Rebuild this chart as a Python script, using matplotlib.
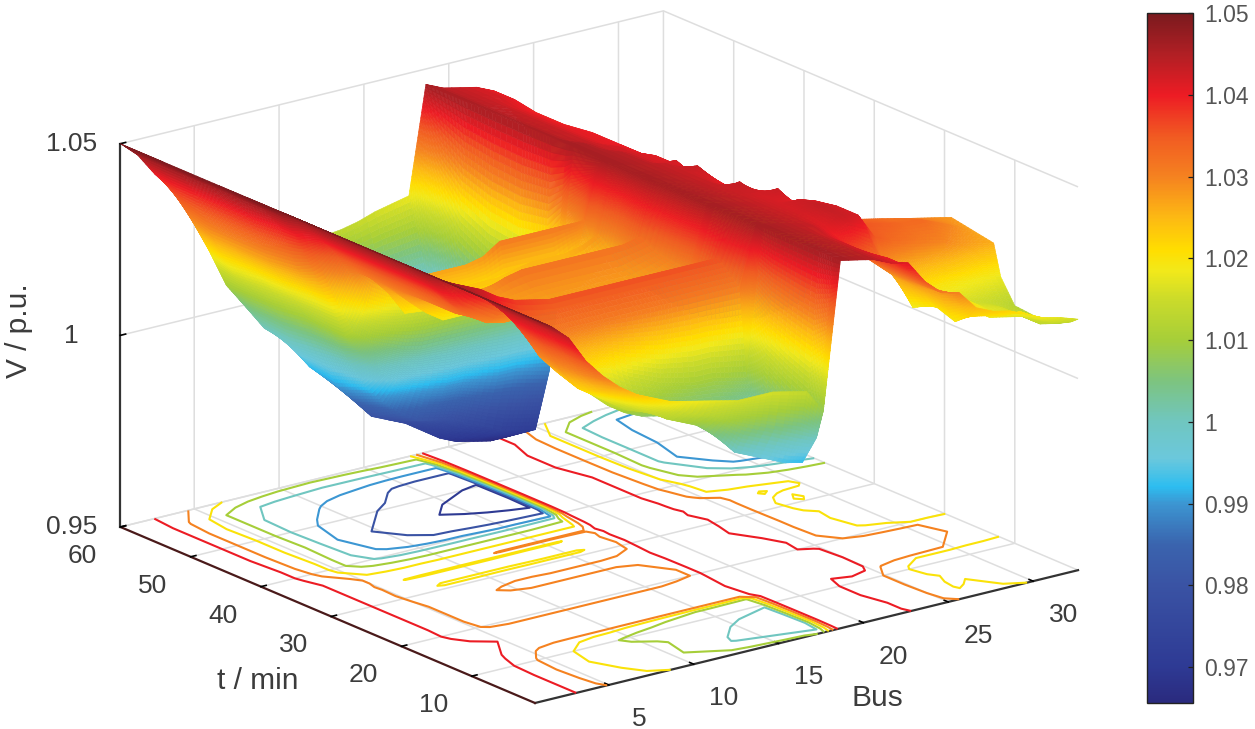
import numpy as np
import matplotlib
matplotlib.use("Agg")
import matplotlib.pyplot as plt
from matplotlib.colors import LinearSegmentedColormap, Normalize
from matplotlib.cm import ScalarMappable
from mpl_toolkits.mplot3d import proj3d

plt.rcParams['font.family'] = ['Liberation Sans', 'DejaVu Sans']
plt.rcParams['grid.color'] = '#dedede'
plt.rcParams['grid.linewidth'] = 1.1

# bus index and time rows
bus = np.arange(1, 34)
t_rows = [1, 2, 4, 7, 10, 12, 13, 16, 19, 20, 22, 25, 27, 29, 31, 33, 34, 35, 36, 37, 39, 40, 42, 46, 50, 54, 57, 60]

# buses 1-18
v_feeder = [
    [1.05, 1.047, 1.043, 1.036, 1.031, 1.027, 1.024, 1.022, 1.02, 1.019, 1.018, 1.017, 1.016, 1.016, 1.016, 1.015, 1.014, 1.008],
    [1.05, 1.047, 1.043, 1.036, 1.03, 1.026, 1.023, 1.02, 1.018, 1.016, 1.014, 1.012, 1.01, 1.008, 1.006, 1.004, 1.002, 1.0],
    [1.05, 1.047, 1.043, 1.036, 1.029, 1.024, 1.021, 1.018, 1.015, 1.012, 1.01, 1.008, 1.004, 0.999, 0.997, 0.995, 0.993, 0.992],
    [1.05, 1.047, 1.043, 1.036, 1.028, 1.022, 1.019, 1.016, 1.013, 1.012, 1.011, 1.008, 1.005, 1.002, 1.0, 0.998, 0.997, 0.996],
    [1.05, 1.047, 1.043, 1.037, 1.029, 1.024, 1.02, 1.016, 1.012, 1.009, 1.007, 1.006, 1.005, 1.004, 1.004, 1.003, 1.002, 1.001],
    [1.05, 1.047, 1.044, 1.039, 1.033, 1.028, 1.024, 1.021, 1.02, 1.019, 1.016, 1.014, 1.012, 1.011, 1.01, 1.01, 1.009, 1.008],
    [1.05, 1.047, 1.044, 1.04, 1.035, 1.032, 1.031, 1.031, 1.031, 1.031, 1.031, 1.031, 1.031, 1.031, 1.031, 1.031, 1.031, 1.031],
    [1.05, 1.047, 1.045, 1.043, 1.04, 1.038, 1.037, 1.036, 1.036, 1.036, 1.036, 1.036, 1.036, 1.036, 1.036, 1.036, 1.036, 1.036],
    [1.05, 1.047, 1.043, 1.037, 1.034, 1.031, 1.0305, 1.0305, 1.0305, 1.0305, 1.0305, 1.0305, 1.0305, 1.0305, 1.0305, 1.0305, 1.031, 1.032],
    [1.05, 1.047, 1.042, 1.036, 1.032, 1.029, 1.028, 1.028, 1.028, 1.028, 1.028, 1.028, 1.028, 1.028, 1.028, 1.028, 1.029, 1.03],
    [1.05, 1.047, 1.042, 1.037, 1.031, 1.029, 1.028, 1.027, 1.027, 1.027, 1.027, 1.027, 1.027, 1.027, 1.027, 1.027, 1.028, 1.03],
    [1.05, 1.047, 1.042, 1.037, 1.031, 1.029, 1.028, 1.028, 1.028, 1.0285, 1.029, 1.029, 1.029, 1.029, 1.029, 1.029, 1.03, 1.031],
    [1.05, 1.047, 1.042, 1.037, 1.031, 1.029, 1.029, 1.029, 1.029, 1.031, 1.032, 1.032, 1.032, 1.032, 1.032, 1.032, 1.032, 1.033],
    [1.05, 1.047, 1.042, 1.037, 1.031, 1.028, 1.027, 1.027, 1.027, 1.027, 1.028, 1.028, 1.027, 1.027, 1.027, 1.027, 1.028, 1.03],
    [1.05, 1.047, 1.042, 1.037, 1.031, 1.026, 1.022, 1.019, 1.019, 1.019, 1.019, 1.019, 1.019, 1.019, 1.019, 1.019, 1.022, 1.026],
    [1.05, 1.047, 1.042, 1.037, 1.031, 1.027, 1.025, 1.024, 1.024, 1.024, 1.024, 1.024, 1.025, 1.026, 1.026, 1.026, 1.027, 1.029],
    [1.05, 1.047, 1.042, 1.037, 1.031, 1.026, 1.0195, 1.019, 1.019, 1.019, 1.019, 1.019, 1.019, 1.019, 1.019, 1.019, 1.023, 1.026],
    [1.05, 1.047, 1.042, 1.037, 1.031, 1.028, 1.027, 1.027, 1.027, 1.027, 1.027, 1.028, 1.031, 1.031, 1.031, 1.031, 1.031, 1.031],
    [1.05, 1.047, 1.042, 1.037, 1.031, 1.028, 1.025, 1.024, 1.024, 1.023, 1.023, 1.023, 1.023, 1.023, 1.023, 1.023, 1.023, 1.023],
    [1.05, 1.047, 1.042, 1.037, 1.03, 1.02, 1.018, 1.017, 1.017, 1.017, 1.017, 1.017, 1.017, 1.017, 1.017, 1.017, 1.017, 1.017],
    [1.05, 1.046, 1.041, 1.032, 1.021, 1.012, 1.008, 1.006, 1.004, 1.003, 1.003, 1.003, 1.003, 1.003, 1.003, 1.003, 1.004, 1.005],
    [1.05, 1.046, 1.04, 1.03, 1.02, 1.01, 1.004, 0.998, 0.995, 0.994, 0.993, 0.992, 0.992, 0.991, 0.99, 0.99, 0.989, 0.988],
    [1.05, 1.046, 1.04, 1.028, 1.02, 1.01, 1.001, 0.993, 0.988, 0.984, 0.981, 0.98, 0.979, 0.977, 0.975, 0.973, 0.972, 0.971],
    [1.05, 1.046, 1.039, 1.027, 1.019, 1.011, 1.0, 0.99, 0.985, 0.98, 0.978, 0.976, 0.973, 0.97, 0.968, 0.967, 0.966, 0.966],
    [1.05, 1.046, 1.039, 1.027, 1.019, 1.01, 0.999, 0.992, 0.988, 0.984, 0.982, 0.98, 0.978, 0.975, 0.972, 0.971, 0.97, 0.969],
    [1.05, 1.046, 1.039, 1.027, 1.018, 1.01, 1.0, 0.997, 0.994, 0.991, 0.988, 0.986, 0.984, 0.981, 0.979, 0.978, 0.978, 0.978],
    [1.05, 1.046, 1.039, 1.029, 1.02, 1.01, 1.004, 1.0, 0.998, 0.997, 0.996, 0.995, 0.995, 0.995, 0.995, 0.995, 0.995, 0.995],
    [1.05, 1.046, 1.04, 1.035, 1.03, 1.025, 1.02, 1.017, 1.015, 1.0135, 1.013, 1.0125, 1.013, 1.0135, 1.0145, 1.016, 1.017, 1.018],
]

# buses 19-33
v_lateral = [
    [1.046, 1.045, 1.044, 1.042, 1.041, 1.035, 1.031, 1.03, 1.025, 1.023, 1.022, 1.02, 1.018, 1.017, 1.0155],
    [1.046, 1.045, 1.044, 1.042, 1.04, 1.035, 1.031, 1.029, 1.022, 1.021, 1.02, 1.02, 1.017, 1.015, 1.014],
    [1.046, 1.045, 1.044, 1.042, 1.04, 1.035, 1.031, 1.028, 1.019, 1.021, 1.018, 1.017, 1.016, 1.013, 1.012],
    [1.046, 1.045, 1.044, 1.042, 1.039, 1.035, 1.031, 1.027, 1.021, 1.018, 1.02, 1.017, 1.016, 1.013, 1.0115],
    [1.046, 1.045, 1.044, 1.042, 1.039, 1.035, 1.031, 1.027, 1.018, 1.019, 1.018, 1.016, 1.015, 1.014, 1.012],
    [1.046, 1.045, 1.044, 1.043, 1.04, 1.042, 1.04, 1.029, 1.024, 1.02, 1.02, 1.02, 1.019, 1.019, 1.018],
    [1.046, 1.045, 1.044, 1.043, 1.041, 1.043, 1.042, 1.035, 1.033, 1.032, 1.031, 1.03, 1.028, 1.027, 1.026],
    [1.046, 1.045, 1.044, 1.043, 1.042, 1.0435, 1.042, 1.036, 1.035, 1.034, 1.033, 1.033, 1.031, 1.029, 1.027],
    [1.046, 1.045, 1.044, 1.043, 1.042, 1.0425, 1.041, 1.036, 1.034, 1.033, 1.032, 1.031, 1.03, 1.029, 1.028],
    [1.046, 1.045, 1.044, 1.043, 1.042, 1.041, 1.038, 1.032, 1.03, 1.026, 1.024, 1.022, 1.02, 1.02, 1.019],
    [1.046, 1.045, 1.044, 1.043, 1.042, 1.043, 1.037, 1.031, 1.027, 1.022, 1.019, 1.018, 1.017, 1.016, 1.016],
    [1.046, 1.045, 1.044, 1.043, 1.0435, 1.039, 1.035, 1.031, 1.025, 1.021, 1.018, 1.019, 1.017, 1.016, 1.015],
    [1.046, 1.045, 1.044, 1.043, 1.0405, 1.038, 1.034, 1.031, 1.025, 1.021, 1.019, 1.018, 1.017, 1.016, 1.015],
    [1.046, 1.045, 1.044, 1.043, 1.0415, 1.038, 1.034, 1.031, 1.024, 1.019, 1.018, 1.018, 1.017, 1.016, 1.015],
    [1.046, 1.045, 1.044, 1.043, 1.043, 1.038, 1.034, 1.031, 1.023, 1.018, 1.021, 1.017, 1.016, 1.015, 1.013],
    [1.046, 1.045, 1.044, 1.043, 1.041, 1.037, 1.034, 1.031, 1.023, 1.021, 1.019, 1.019, 1.016, 1.013, 1.012],
    [1.046, 1.045, 1.044, 1.042, 1.042, 1.037, 1.033, 1.031, 1.024, 1.019, 1.022, 1.021, 1.017, 1.012, 1.01],
    [1.046, 1.045, 1.044, 1.042, 1.041, 1.037, 1.033, 1.03, 1.024, 1.022, 1.021, 1.02, 1.017, 1.014, 1.012],
    [1.046, 1.045, 1.044, 1.042, 1.041, 1.036, 1.031, 1.026, 1.021, 1.02, 1.019, 1.0185, 1.018, 1.016, 1.014],
    [1.046, 1.045, 1.044, 1.042, 1.041, 1.035, 1.029, 1.02, 1.018, 1.016, 1.014, 1.013, 1.012, 1.011, 1.01],
    [1.046, 1.045, 1.043, 1.042, 1.04, 1.034, 1.027, 1.019, 1.015, 1.012, 1.009, 1.006, 1.003, 1.0, 0.997],
    [1.046, 1.045, 1.043, 1.042, 1.04, 1.033, 1.026, 1.018, 1.012, 1.009, 1.004, 0.999, 0.995, 0.992, 0.99],
    [1.046, 1.044, 1.043, 1.041, 1.04, 1.033, 1.024, 1.013, 1.006, 1.001, 0.992, 0.989, 0.988, 0.987, 0.987],
    [1.046, 1.044, 1.043, 1.041, 1.04, 1.032, 1.022, 1.009, 0.999, 0.99, 0.986, 0.984, 0.983, 0.982, 0.981],
    [1.046, 1.044, 1.043, 1.041, 1.039, 1.032, 1.021, 1.01, 0.999, 0.993, 0.987, 0.984, 0.983, 0.982, 0.981],
    [1.046, 1.044, 1.043, 1.041, 1.039, 1.032, 1.021, 1.01, 0.999, 0.994, 0.988, 0.985, 0.984, 0.983, 0.982],
    [1.046, 1.044, 1.043, 1.042, 1.04, 1.033, 1.021, 1.01, 1.0, 0.995, 0.99, 0.988, 0.987, 0.986, 0.985],
    [1.046, 1.044, 1.043, 1.042, 1.04, 1.034, 1.028, 1.02, 1.016, 1.012, 1.0095, 1.006, 1.004, 1.003, 1.002],
]

contour_levels = [0.97, 0.98, 0.99, 1.0, 1.01, 1.02, 1.03, 1.04]
bus_ticks = [5, 10, 15, 20, 25, 30]
t_ticks = [10, 20, 30, 40, 50, 60]
v_ticks = [0.95, 1.0, 1.05]
v_tick_labels = ['0.95', '1', '1.05']
cbar_ticks = [0.97, 0.98, 0.99, 1.0, 1.01, 1.02, 1.03, 1.04, 1.05]
cbar_labels = ['0.97', '0.98', '0.99', '1', '1.01', '1.02', '1.03', '1.04', '1.05']

# colorbar colours
v_min, v_max = 0.9656, 1.05
cmap_stops = [(0.9656, '#2a2a7e'), (0.97, '#2e3a94'), (0.98, '#3a53a4'), (0.985, '#3a64ae'), (0.99, '#3c96d2'),
              (0.992, '#2dbdf0'), (0.9955, '#6bc8dc'), (1.0, '#70c6c0'), (1.005, '#7dc47f'), (1.01, '#a6ce39'),
              (1.015, '#cbdb2a'), (1.0185, '#f2e91a'), (1.021, '#ffde00'), (1.025, '#fdb913'), (1.03, '#f58220'),
              (1.035, '#f15a22'), (1.04, '#ed1c24'), (1.045, '#b11f24'), (1.05, '#7a1a1e')]
jet_like = LinearSegmentedColormap.from_list(
    'jet_like', [((v - v_min) / (v_max - v_min), c) for v, c in cmap_stops], N=512)
norm = Normalize(v_min, v_max)


def fine_axis(vals, per_gap):
    # split every gap of the mesh so the facets can fake matlab's shading interp
    out = [vals[0]]
    for a, b, n in zip(vals[:-1], vals[1:], per_gap):
        out.extend(np.linspace(a, b, n + 1)[1:])
    return np.array(out, dtype=float)


def fine_mesh(V, xs, ys, xf, yf):
    by_col = np.array([np.interp(yf, ys, V[:, j]) for j in range(V.shape[1])]).T
    return np.array([np.interp(xf, xs, row) for row in by_col])


V = np.hstack([np.array(v_feeder), np.array(v_lateral)])

fig = plt.figure(figsize=(12.55, 7.29), dpi=100)
ax = fig.add_axes([0, 0, 1, 1], projection='3d', computed_zorder=False, proj_type='ortho')
ax.view_init(elev=18.8, azim=-127.2)

# more facets where the surface is steep
gap_x = np.clip(np.ceil(np.abs(np.diff(V, axis=1)).max(axis=0) / 0.0012).astype(int), 2, 40)
gap_y = np.clip(np.ceil(np.abs(np.diff(V, axis=0)).max(axis=1) / 0.0012).astype(int), 2, 16)
xf = fine_axis(bus, gap_x)
yf = fine_axis(t_rows, gap_y)
Vf = fine_mesh(V, bus, np.array(t_rows, dtype=float), xf, yf)
Xf, Yf = np.meshgrid(xf, yf)
Cf = 0.25 * (Vf[:-1, :-1] + Vf[1:, :-1] + Vf[:-1, 1:] + Vf[1:, 1:])
fc = jet_like(norm(Cf))

X, Y = np.meshgrid(bus, t_rows)
ax.contour(X, Y, V, levels=contour_levels, zdir='z', offset=0.95, cmap=jet_like, norm=norm,
           linewidths=1.5, zorder=1)
surf = ax.plot_surface(Xf, Yf, Vf, facecolors=fc, rstride=1, cstride=1, shade=False,
                       linewidth=0.4, antialiased=True, zorder=2)
surf.set_edgecolor(fc.reshape(-1, 4))
for coll in ax.collections:
    coll.set_clip_on(False)

ax.set_xlim(1, 33, view_margin=0)
ax.set_ylim(1, 60, view_margin=0)
ax.set_zlim(0.95, 1.05, view_margin=0)

# tick marks sit a third of a bus off the data columns in the reference
ax.set_xticks([b + 0.35 for b in bus_ticks], [str(b) for b in bus_ticks])
ax.set_yticks(t_ticks, [str(t) for t in t_ticks])
ax.set_zticks(v_ticks, v_tick_labels)
ax.tick_params(labelsize=19, labelcolor='#3c3c3c')
ax.tick_params(axis='x', pad=12)
ax.tick_params(axis='y', pad=11)
ax.tick_params(axis='z', pad=6)
for lab in ax.get_xticklabels() + ax.get_yticklabels():
    lab.set_va('baseline')
for lab in ax.get_zticklabels():
    lab.set_va('center_baseline')

for axis, c in zip((ax.xaxis, ax.yaxis, ax.zaxis), ('#333333', '#4a1a1a', '#333333')):
    axis.set_pane_color((1, 1, 1, 0))
    axis.pane.set_edgecolor('#dedede')
    axis.line.set_color(c)
    axis.line.set_linewidth(1.6)
    axis._axinfo['tick'].update({'inward_factor': 0.0, 'outward_factor': 0.12, 'linewidth': {True: 1.2, False: 0.5}})
    axis._axinfo['tick']['color'] = '#333333'
    axis.set_rotate_label(False)

ax.set_ylabel('t / min', fontsize=21.5, color='#3c3c3c', labelpad=14, rotation=0)
ax.set_zlabel('V / p.u.', fontsize=21.5, color='#3c3c3c', labelpad=8, rotation=90)

# place the box: front corner and right corner from the reference, in pixels
W, H = 1255, 729
target_front = np.array([535.0, 703.0])
target_right = np.array([1078.0, 570.0])


def corner_px(x, y, z):
    fig.canvas.draw()
    xp, yp, _ = proj3d.proj_transform(x, y, z, ax.get_proj())
    return ax.transData.transform((xp, yp))


zoom = 1.0
ax.set_box_aspect((682, 686, 405), zoom=zoom)
p0 = corner_px(1, 1, 0.95)
p1 = corner_px(33, 1, 0.95)
zoom = np.linalg.norm(target_right - target_front) / np.linalg.norm(p1 - p0)
ax.set_box_aspect((682, 686, 405), zoom=zoom)
p0 = corner_px(1, 1, 0.95)
want = np.array([target_front[0], H - target_front[1]])
shift = (want - p0) / np.array([W, H])
ax.set_position([shift[0], shift[1], 1, 1])

# mplot3d can only slide this label along the tick direction, so it goes on the figure
fig.text(877 / W, 1 - 698 / H, 'Bus', fontsize=21.5, color='#3c3c3c', ha='center', va='center')

cax = fig.add_axes([1147 / W, 1 - 703 / H, 46 / W, 690 / H])
cb = fig.colorbar(ScalarMappable(norm=norm, cmap=jet_like), cax=cax, ticks=cbar_ticks)
cb.set_ticklabels(cbar_labels)
cax.tick_params(direction='in', length=3.5, width=0.9, labelsize=16.5, labelcolor='#555555', pad=8, color='#222222')
cb.outline.set_linewidth(1.0)
cb.outline.set_edgecolor('#222222')

fig.savefig('out.png', dpi=100)
